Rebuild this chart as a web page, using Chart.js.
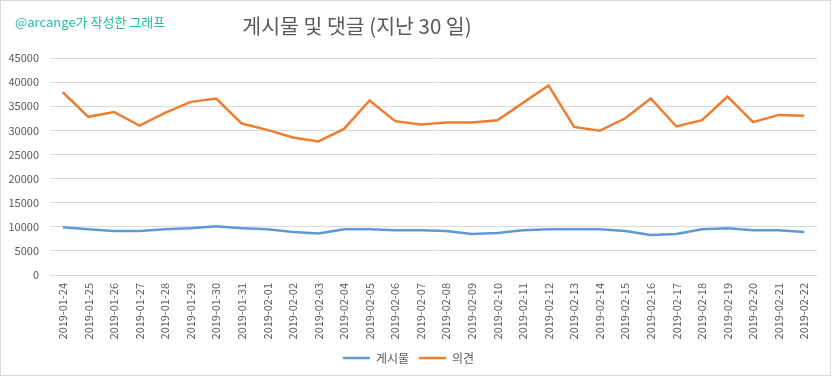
<!DOCTYPE html>
<html>
<head>
<meta charset="utf-8">
<script src="https://cdn.jsdelivr.net/npm/chart.js@4/dist/chart.umd.min.js"></script>
<style>
  html, body { margin: 0; padding: 0; background: #ffffff; }
  canvas { display: block; }
</style>
</head>
<body>
<canvas id="c" width="832" height="378"></canvas>
<script>
const dates = [
  "2019-01-24","2019-01-25","2019-01-26","2019-01-27","2019-01-28","2019-01-29","2019-01-30","2019-01-31",
  "2019-02-01","2019-02-02","2019-02-03","2019-02-04","2019-02-05","2019-02-06","2019-02-07","2019-02-08",
  "2019-02-09","2019-02-10","2019-02-11","2019-02-12","2019-02-13","2019-02-14","2019-02-15","2019-02-16",
  "2019-02-17","2019-02-18","2019-02-19","2019-02-20","2019-02-21","2019-02-22"
];
const posts = [9900, 9500, 9100, 9100, 9500, 9700, 10100, 9700, 9500, 8900, 8600, 9500, 9500, 9300, 9300,
               9100, 8500, 8700, 9300, 9500, 9500, 9500, 9100, 8300, 8500, 9500, 9700, 9300, 9300, 8900];
const comments = [37900, 32800, 33800, 31000, 33600, 35900, 36600, 31400, 30100, 28500, 27700, 30300, 36200, 31900, 31200,
                  31600, 31600, 32100, 35700, 39300, 30700, 29900, 32500, 36600, 30800, 32100, 37000, 31700, 33200, 33000];
const seriesNames = ["게시물", "의견"];
const yTicks = { min: 0, max: 45000, step: 5000 };
const titleText = "게시물 및 댓글 (지난 30 일)";
const subtitleText = "@arcange가 작성한 그래프";

const FONT = "'Noto Sans CJK KR', 'Noto Sans', sans-serif";
const GRAY = "#595959";

const frame = {
  id: 'frame',
  beforeDraw(chart) {
    const ctx = chart.ctx;
    ctx.save();
    ctx.fillStyle = '#ffffff';
    ctx.fillRect(0, 0, chart.width, chart.height);
    ctx.restore();
  },
  afterDraw(chart) {
    const ctx = chart.ctx;
    ctx.save();
    ctx.strokeStyle = '#d9d9d9';
    ctx.lineWidth = 1;
    ctx.strokeRect(0.5, 0.5, 830, 375);
    ctx.fillStyle = GRAY;
    ctx.font = "20.5px " + FONT;
    ctx.textAlign = 'center';
    ctx.textBaseline = 'middle';
    ctx.fillText(titleText, 357, 26);
    ctx.fillStyle = '#1fbf9f';
    ctx.font = "13px " + FONT;
    ctx.textAlign = 'left';
    ctx.fillText(subtitleText, 15, 22);
    ctx.restore();
  }
};

new Chart(document.getElementById('c'), {
  type: 'line',
  data: {
    labels: dates,
    datasets: [
      { label: seriesNames[0], data: posts, borderColor: '#5b9bd5', backgroundColor: '#5b9bd5',
        borderWidth: 2.5, pointRadius: 0, tension: 0, fill: false },
      { label: seriesNames[1], data: comments, borderColor: '#ed7d31', backgroundColor: '#ed7d31',
        borderWidth: 2.5, pointRadius: 0, tension: 0, fill: false }
    ]
  },
  options: {
    responsive: false,
    animation: false,
    devicePixelRatio: 1,
    layout: { padding: { top: 58, left: 0, right: 15, bottom: 4 } },
    plugins: {
      title: { display: false },
      tooltip: { enabled: false },
      legend: {
        position: 'bottom',
        labels: {
          usePointStyle: true,
          pointStyle: 'line',
          pointStyleWidth: 27,
          boxHeight: 12,
          color: GRAY,
          font: { family: FONT, size: 12 },
          padding: 10
        }
      }
    },
    scales: {
      x: {
        offset: true,
        grid: { display: false, drawTicks: false },
        border: { display: false },
        ticks: {
          autoSkip: false, maxRotation: 90, minRotation: 90, padding: 8,
          color: GRAY, font: { family: FONT, size: 11 }
        },
        afterFit(scale) { scale.height = 67; }
      },
      y: {
        min: yTicks.min, max: yTicks.max,
        grid: { color: '#d9d9d9', drawTicks: false, lineWidth: 1 },
        border: { display: false },
        ticks: {
          stepSize: yTicks.step, padding: 11,
          color: GRAY, font: { family: FONT, size: 11 },
          callback: v => String(v)
        },
        afterFit(scale) { scale.width = 50; }
      }
    }
  },
  plugins: [frame]
});
</script>
</body>
</html>
